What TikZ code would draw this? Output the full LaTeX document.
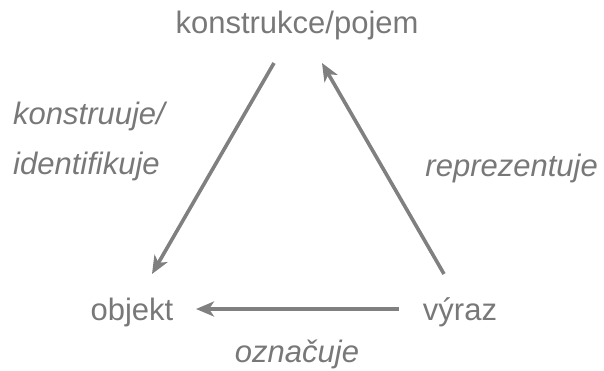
\documentclass[tikz,border=0pt]{standalone}
\usepackage{fontspec}
\setmainfont{Liberation Sans}
\usetikzlibrary{arrows.meta}
\definecolor{txtgray}{gray}{0.47}
\definecolor{arrgray}{gray}{0.5}
\begin{document}
\begin{tikzpicture}[x=1pt,y=-1pt,
  lbl/.style={inner sep=0pt,text=txtgray,font=\fontsize{31}{37}\selectfont},
  ilbl/.style={lbl,font=\fontsize{31}{37}\selectfont\itshape},
  conn/.style={draw=arrgray,line width=3.6pt,-{Stealth[length=18pt,width=15pt,inset=5pt]}}]
\useasboundingbox (0,0) rectangle (604,371);
\node[lbl,anchor=base] (kp) at (297,34) {konstrukce/pojem};
\node[lbl,anchor=base] (ob) at (132,320) {objekt};
\node[lbl,anchor=base] (vy) at (460,320) {výraz};
\node[ilbl,anchor=base west] (l1a) at (13,125) {konstruuje/};
\node[ilbl,anchor=base west] (l1b) at (13,175) {identifikuje};
\node[ilbl,anchor=base east] (l2) at (598,177) {reprezentuje};
\node[ilbl,anchor=base] (l3) at (297,362) {označuje};
\coordinate (a1s) at (274,63);
\coordinate (a1e) at (152,274);
\coordinate (a2s) at (444,274);
\coordinate (a2e) at (322,63);
\coordinate (a3s) at (399,309);
\coordinate (a3e) at (196,309);
\draw[conn] (a1s) -- (a1e);
\draw[conn] (a2s) -- (a2e);
\draw[conn] (a3s) -- (a3e);
\end{tikzpicture}
\end{document}
